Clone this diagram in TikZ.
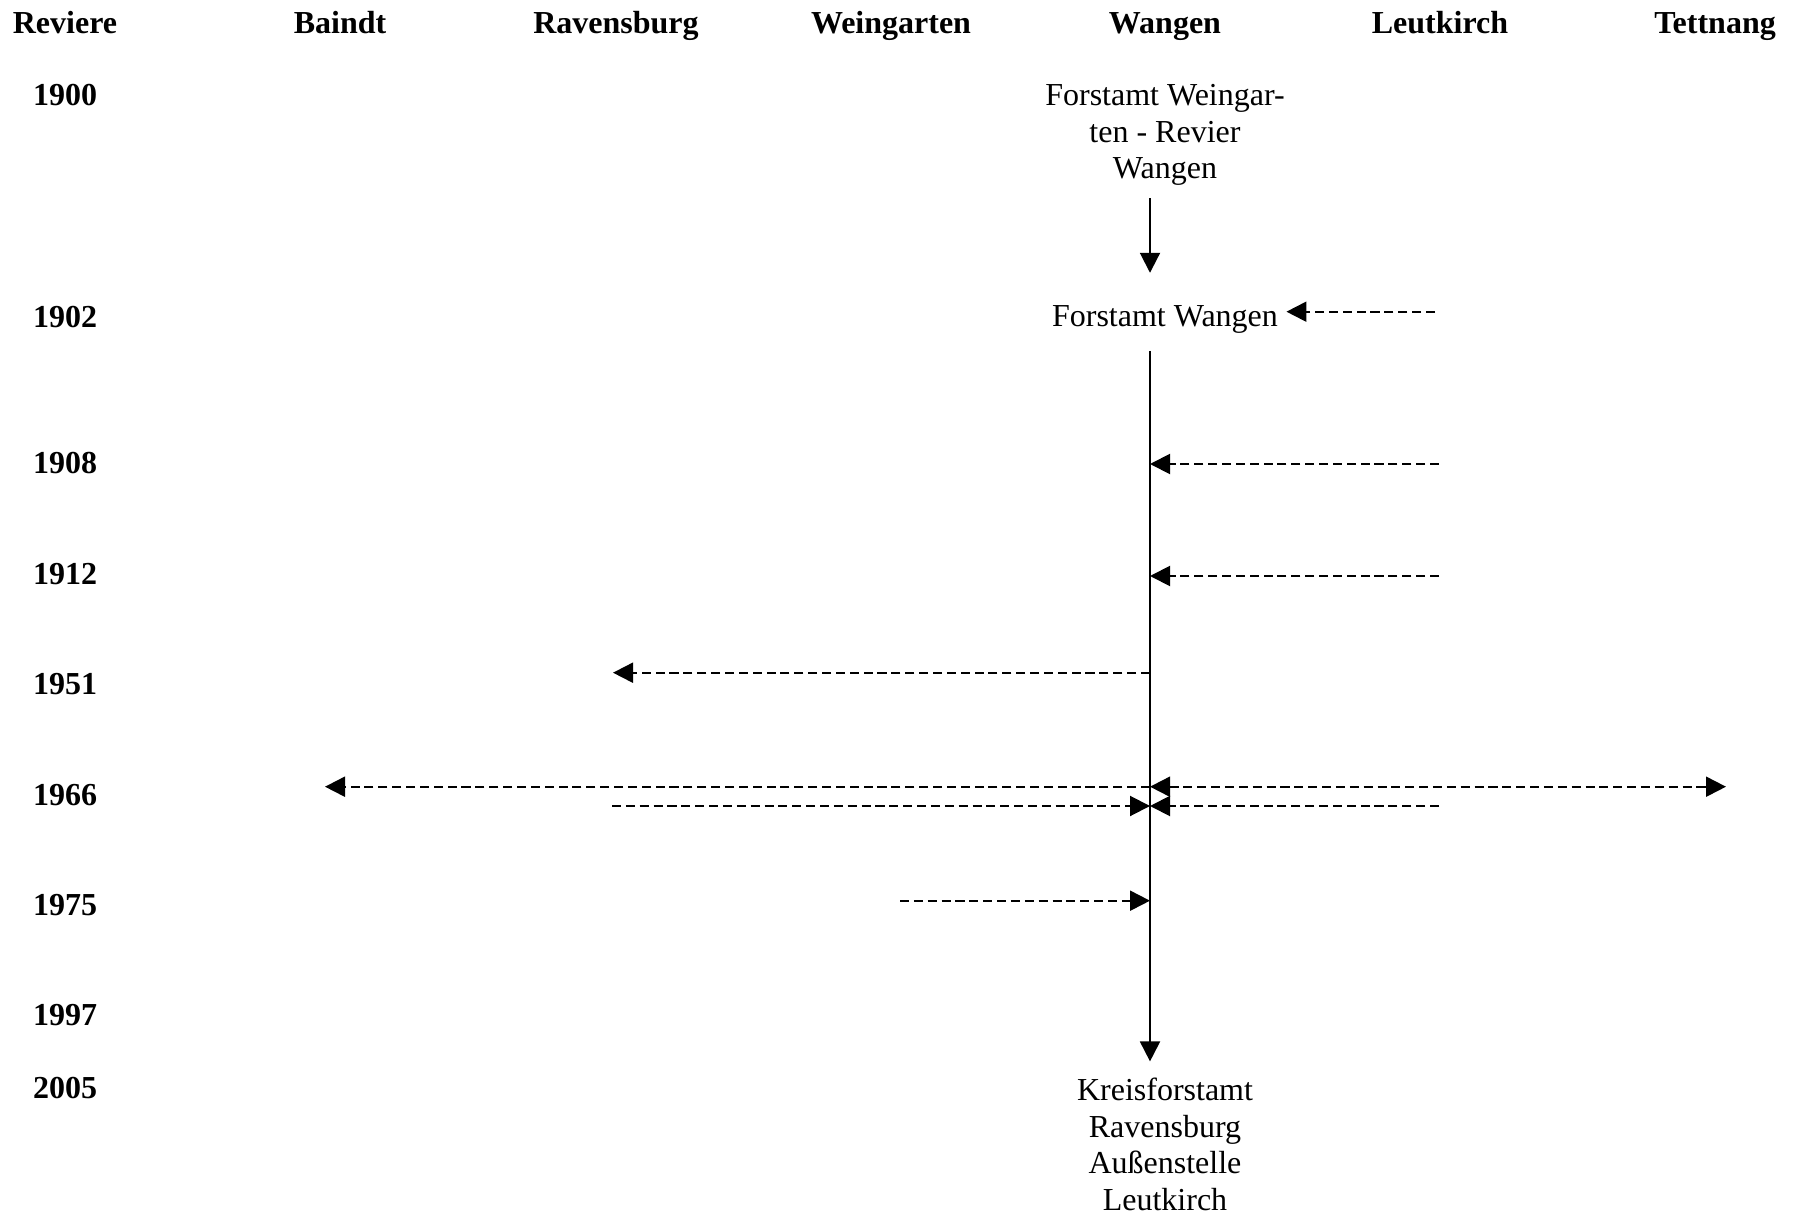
\documentclass[tikz,border=0pt]{standalone}
\usepackage{fontspec}
\setmainfont{Liberation Serif}
\usetikzlibrary{arrows.meta, positioning}

\begin{document}
\begin{tikzpicture}[
    x=0.375pt, y=-0.375pt,
    every node/.style={inner sep=0pt, font=\fontsize{12}{13.75}\selectfont},
    head/.style={anchor=base, font=\fontsize{12}{13.75}\selectfont\bfseries},
    year/.style={anchor=base, font=\fontsize{12}{13.75}\selectfont\bfseries},
    office/.style={anchor=north, align=center},
    arrow/.style={-{Triangle[length=7.5pt, width=7.5pt]}, line width=0.75pt},
    dasharrow/.style={-{Triangle[length=7.5pt, width=7.5pt]}, line width=0.75pt, dash pattern=on 3.4pt off 1.8pt},
    dashboth/.style={{Triangle[length=7.5pt, width=7.5pt]}-{Triangle[length=7.5pt, width=7.5pt]}, line width=0.75pt, dash pattern=on 3.4pt off 1.8pt}
]
\useasboundingbox (0,0) rectangle (1795,1215);

% Column heads
\node[head] (reviere) at (65,33.4) {Reviere};
\node[head] (baindt) at (340,33.4) {Baindt};
\node[head] (ravensburg) at (616,33.4) {Ravensburg};
\node[head] (weingarten) at (891,33.4) {Weingarten};
\node[head] (wangen) at (1165,33.4) {Wangen};
\node[head] (leutkirch) at (1440,33.4) {Leutkirch};
\node[head] (tettnang) at (1715,33.4) {Tettnang};

% Years (left column)
\node[year] (y1900) at (65,106) {1900};
\node[year] (y1902) at (65,327.5) {1902};
\node[year] (y1908) at (65,474) {1908};
\node[year] (y1912) at (65,584) {1912};
\node[year] (y1951) at (65,694) {1951};
\node[year] (y1966) at (65,805) {1966};
\node[year] (y1975) at (65,915) {1975};
\node[year] (y1997) at (65,1025) {1997};
\node[year] (y2005) at (65,1098) {2005};

% Offices in the Wangen column
\node[office] (wg1900) at (1165,83.8) {Forstamt Weingar-\\ten - Revier\\Wangen};
\node[office] (wg1902) at (1165,304.8) {Forstamt Wangen};
\node[office] (wg2005) at (1165,1077.4) {Kreisforstamt\\Ravensburg\\Außenstelle\\Leutkirch};

% Time axis
\coordinate (axis) at (1150,0);
\draw[arrow, shorten <=4.5pt, shorten >=12pt] (wg1900.south -| axis) -- (wg1902.north -| axis);
\draw[arrow, shorten <=6.4pt, shorten >=6pt] (wg1902.south -| axis) -- (wg2005.north -| axis);

% Ends of the transfers
\coordinate (lk1902) at (1435,311.7);
\coordinate (lk1908) at (1439,464);
\coordinate (lk1912) at (1439,576);
\coordinate (rv1951) at (613,672.7);
\coordinate (bd1966) at (325,786.7);
\coordinate (tt1966) at (1726,786.7);
\coordinate (rv1966) at (612,806);
\coordinate (lk1966) at (1439,806);
\coordinate (wn1975) at (900,900.7);

% Transfers between Reviere
\draw[dasharrow, shorten >=3pt] (lk1902) -- (wg1902.east |- lk1902);
\draw[dasharrow] (lk1908) -- (lk1908 -| axis);
\draw[dasharrow] (lk1912) -- (lk1912 -| axis);
\draw[dasharrow] (rv1951 -| axis) -- (rv1951);
\draw[dasharrow] (bd1966 -| axis) -- (bd1966);
\draw[dashboth] (tt1966 -| axis) -- (tt1966);
\draw[dasharrow] (rv1966) -- (rv1966 -| axis);
\draw[dasharrow] (lk1966) -- (lk1966 -| axis);
\draw[dasharrow] (wn1975) -- (wn1975 -| axis);

\end{tikzpicture}
\end{document}
